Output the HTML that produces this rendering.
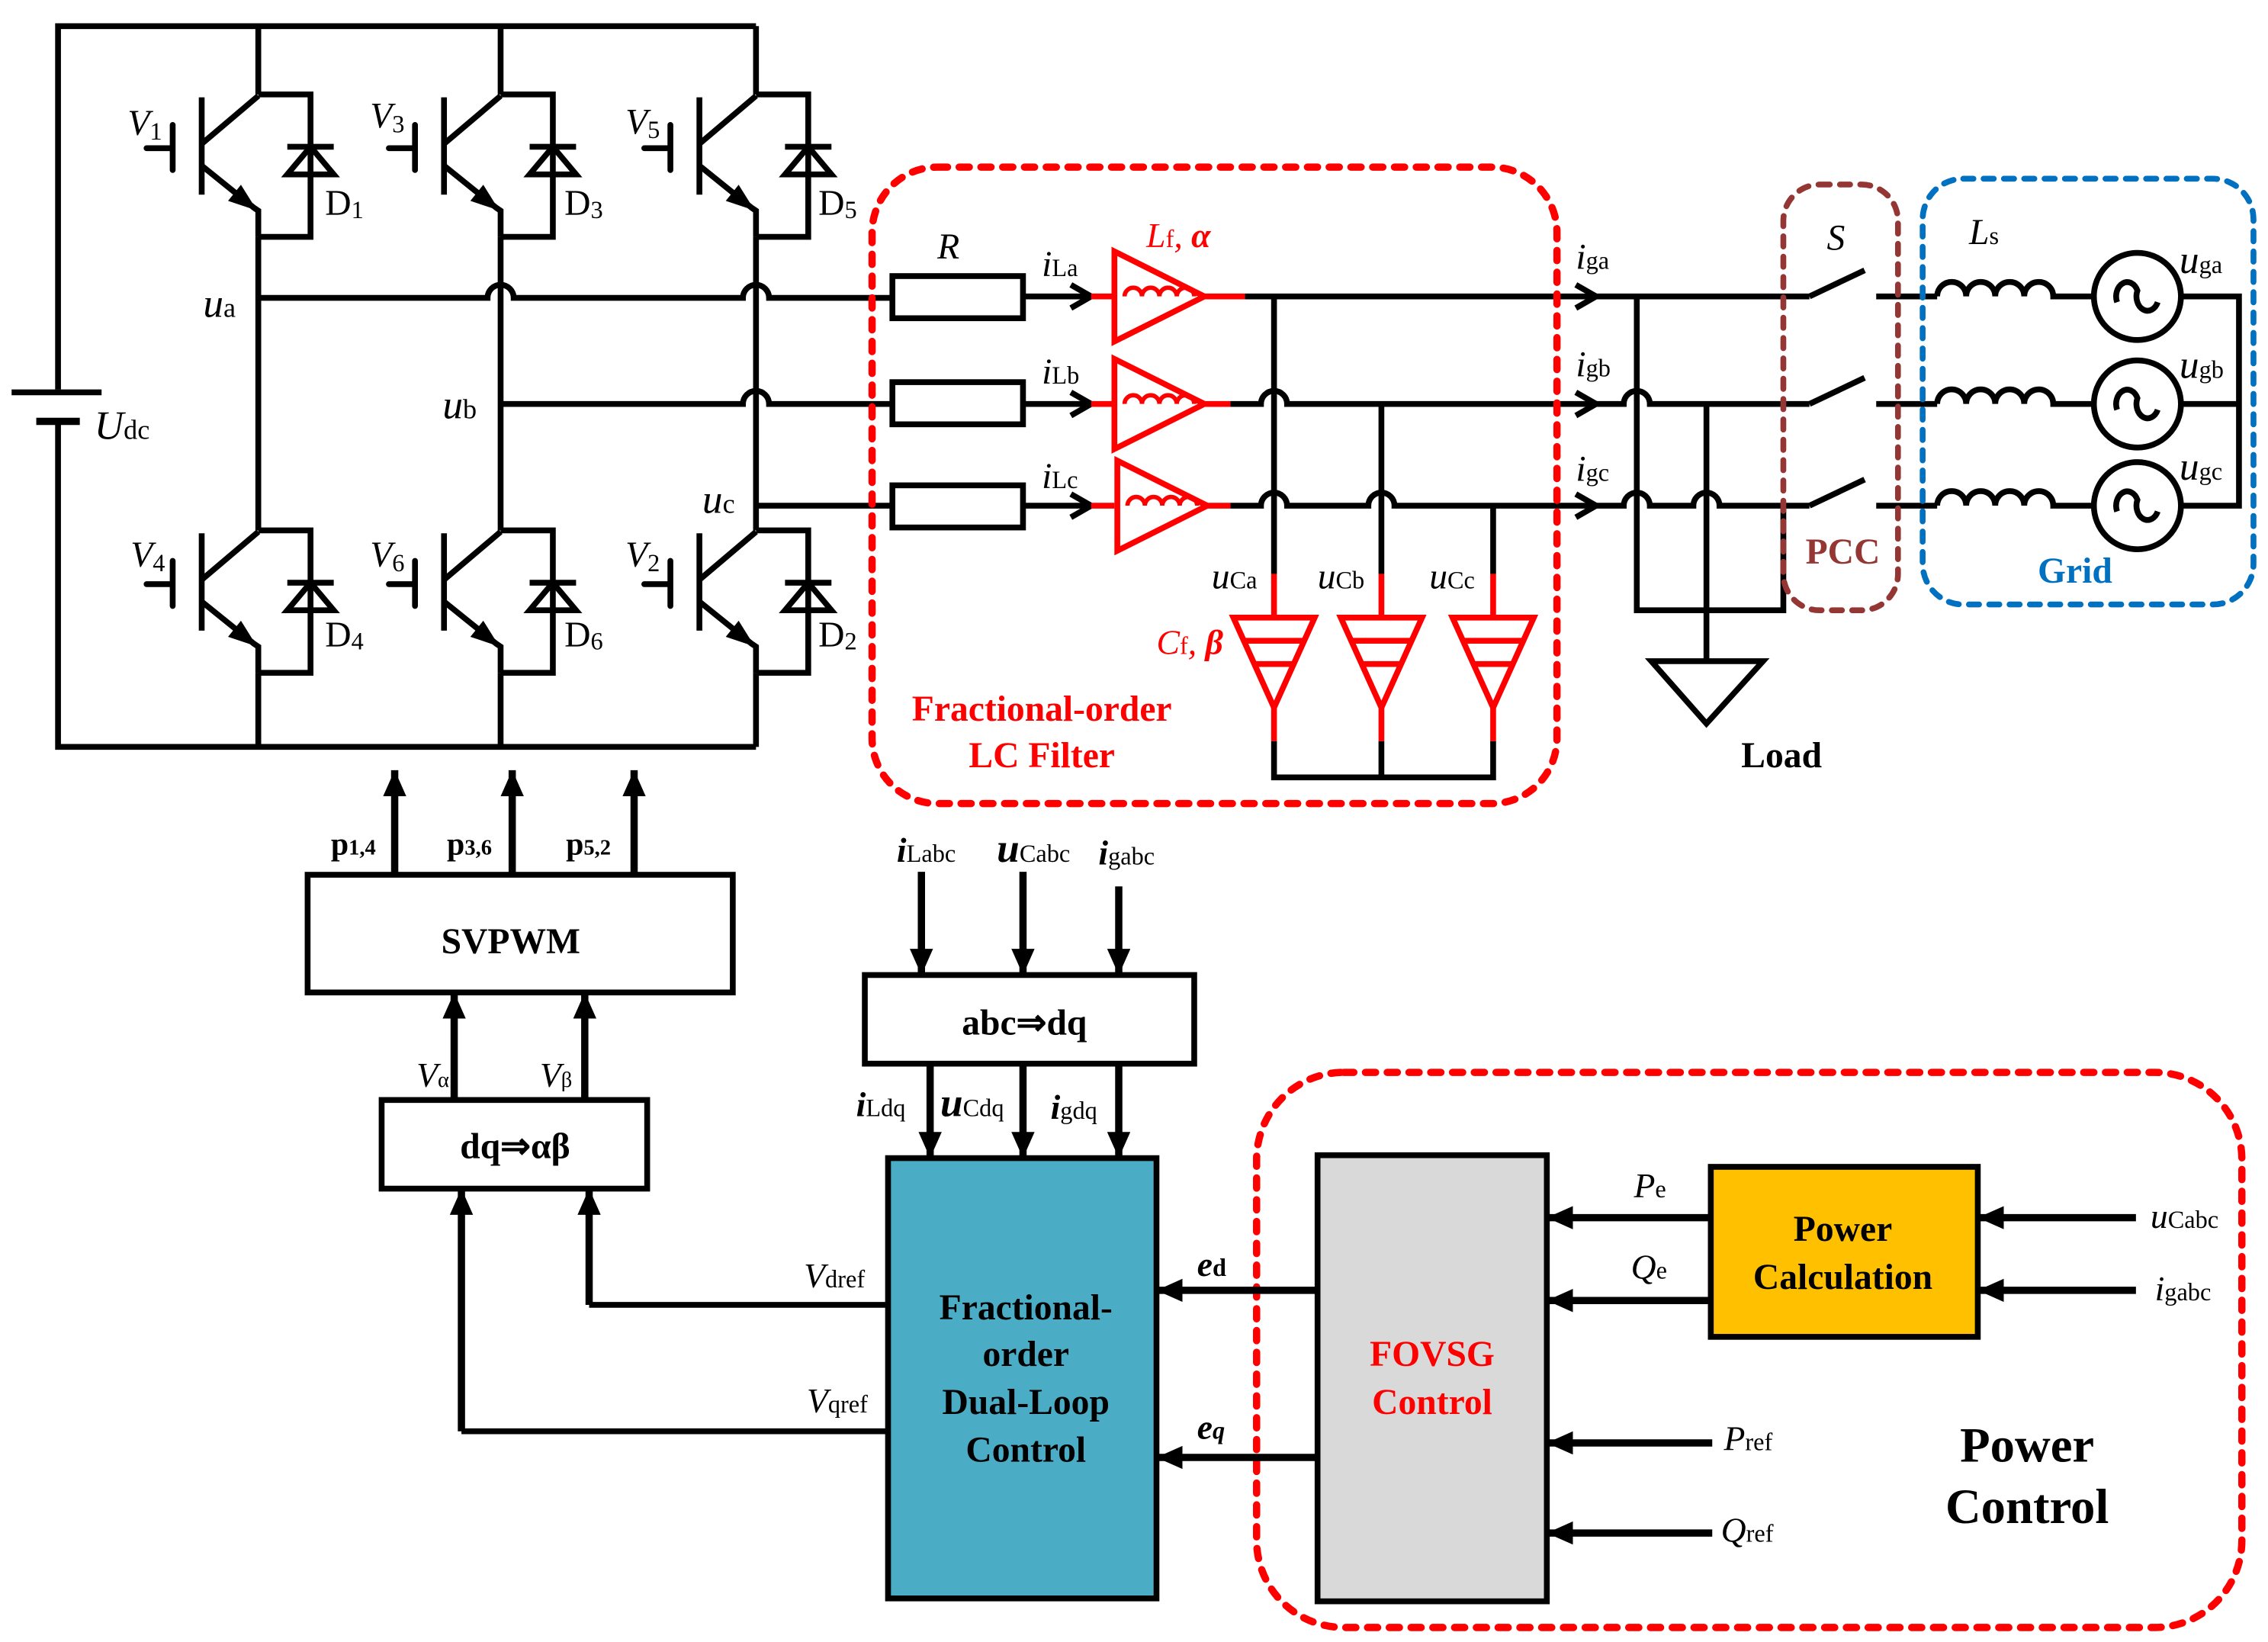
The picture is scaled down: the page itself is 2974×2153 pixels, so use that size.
<!DOCTYPE html>
<html><head><meta charset="utf-8"><style>
html,body{margin:0;padding:0;background:#fff;}
svg{display:block;}
text{font-family:"Liberation Serif",serif;}
</style></head><body>
<svg width="2974" height="2153" viewBox="0 0 1563 1130" preserveAspectRatio="none" xmlns="http://www.w3.org/2000/svg">
<defs>
<marker id="ar" markerUnits="userSpaceOnUse" markerWidth="20" markerHeight="16" refX="18" refY="8" orient="auto"><path d="M0,0 L18,8 L0,16 Z" fill="#000"/></marker>
<g id="tr" fill="none" stroke="#000" stroke-width="4">
<path d="M-39,2 V69"/>
<path d="M-39,34 L0,1"/>
<path d="M-39,49 L-3,78 L0,80 V98"/>
<polygon points="-2,79 -20,73 -12,63" fill="#000" stroke-width="1"/>
<path d="M0,0 H36 V98 H0"/>
<path d="M20,36 H52"/>
<path d="M36,36 L20,55 H52 Z"/>
<path d="M-77,37 H-59 M-59,21 V52" stroke-linecap="round"/>
</g>
<g id="cap" fill="none" stroke="#f00" stroke-width="4">
<path d="M-28,0 H28 L0,62 Z"/>
<path d="M-21,16 H21 M-14,32 H14"/>
</g>
</defs>
<g fill="none" stroke="#000" stroke-width="4">
<path d="M40,268 V18 H521 M40,290 V514 H521"/>
<path d="M8,270 H70"/>
<path d="M25,290 H55" stroke-width="5"/>
<path d="M178,18 V65 M178,163 V365 M178,463 V514"/>
<path d="M345,18 V65 M345,163 V365 M345,463 V514"/>
<path d="M521,18 V65 M521,163 V365 M521,463 V514"/>
<path d="M178,205 H336 a9,9 0 0 1 18,0 H512 a9,9 0 0 1 18,0 H615"/>
<path d="M345,278 H512 a9,9 0 0 1 18,0 H615"/>
<path d="M521,348 H615"/>
<rect x="615" y="190" width="90" height="29"/>
<rect x="615" y="263" width="90" height="29"/>
<rect x="615" y="334" width="90" height="29"/>
<path d="M705,204 H752 M705,278 H752 M705,348 H752"/>
<path d="M738,196 L752,204 L738,212 M738,270 L752,278 L738,286 M738,340 L752,348 L738,356"/>
<path d="M858,204 H1100"/>
<path d="M848,278 H869 a9,9 0 0 1 18,0 H1119 a9,9 0 0 1 18,0 H1247"/>
<path d="M848,348 H869 a9,9 0 0 1 18,0 H943 a9,9 0 0 1 18,0 H1119 a9,9 0 0 1 18,0 H1167 a9,9 0 0 1 18,0 H1247"/>
<path d="M1100,204 H1247"/>
<path d="M1086,196 L1100,204 L1086,212 M1086,270 L1100,278 L1086,286 M1086,340 L1100,348 L1086,356"/>
<path d="M878,204 V395 M952,278 V395 M1029,348 V395"/>
<path d="M878,510 V535 H1029 V510 M952,510 V535"/>
<path d="M1128,204 V420 H1229 V348 M1176,278 V455"/>
<path d="M1138,455 H1215 L1176,498 Z"/>
<path d="M1247,204 L1285,186 M1247,278 L1285,260 M1247,348 L1285,330"/>
<path d="M1293,204 H1335 M1293,278 H1335 M1293,348 H1335"/>
<path d="M1335,204 a10,10 0 0 1 20,0 a10,10 0 0 1 20,0 a10,10 0 0 1 20,0 a10,10 0 0 1 20,0 H1443"/>
<path d="M1335,278 a10,10 0 0 1 20,0 a10,10 0 0 1 20,0 a10,10 0 0 1 20,0 a10,10 0 0 1 20,0 H1443"/>
<path d="M1335,348 a10,10 0 0 1 20,0 a10,10 0 0 1 20,0 a10,10 0 0 1 20,0 a10,10 0 0 1 20,0 H1443"/>
<circle cx="1473" cy="204" r="30"/><circle cx="1473" cy="278" r="30"/><circle cx="1473" cy="348" r="30"/>
<path d="M1459,212 a7,9 0 0 1 14,-8 a7,9 0 0 0 14,8" transform="translate(0,-4)"/>
<path d="M1459,286 a7,9 0 0 1 14,-8 a7,9 0 0 0 14,8" transform="translate(0,-4)"/>
<path d="M1459,356 a7,9 0 0 1 14,-8 a7,9 0 0 0 14,8" transform="translate(0,-4)"/>
<path d="M1503,204 H1543 V348 H1503 M1503,278 H1543"/>
</g>
<g fill="none" stroke="#f00" stroke-width="4">
<path d="M752,204 H768 M830,204 H858 M752,278 H768 M830,278 H848 M752,348 H768 M830,348 H848"/>
<path d="M768,173 V235 L830,204 Z M768,247 V309 L830,278 Z M770,317 V379 L832,348 Z"/>
<path d="M775,204 a6,6 0 0 1 12,0 a6,6 0 0 1 12,0 a6,6 0 0 1 12,0 a6,6 0 0 1 12,0" stroke-width="3"/>
<path d="M775,278 a6,6 0 0 1 12,0 a6,6 0 0 1 12,0 a6,6 0 0 1 12,0 a6,6 0 0 1 12,0" stroke-width="3"/>
<path d="M777,348 a6,6 0 0 1 12,0 a6,6 0 0 1 12,0 a6,6 0 0 1 12,0 a6,6 0 0 1 12,0" stroke-width="3"/>
<path d="M878,395 V425 M952,395 V425 M1029,395 V425 M878,485 V510 M952,485 V510 M1029,485 V510"/>
</g>
<use href="#cap" x="878" y="425"/><use href="#cap" x="952" y="425"/><use href="#cap" x="1029" y="425"/>
<use href="#tr" x="178" y="65"/><use href="#tr" x="345" y="65"/><use href="#tr" x="521" y="65"/>
<use href="#tr" x="178" y="365"/><use href="#tr" x="345" y="365"/><use href="#tr" x="521" y="365"/>
<rect x="601" y="115" width="472" height="438" rx="45" fill="none" stroke="#f00" stroke-width="5" stroke-dasharray="7 8" stroke-linecap="round"/>
<rect x="1229" y="127" width="79" height="293" rx="25" fill="none" stroke="#943634" stroke-width="4" stroke-dasharray="7 7" stroke-linecap="round"/>
<rect x="1325" y="123" width="228" height="293" rx="28" fill="none" stroke="#0070C0" stroke-width="4" stroke-dasharray="7 7" stroke-linecap="round"/>
<rect x="866" y="738" width="679" height="382" rx="60" fill="none" stroke="#f00" stroke-width="5" stroke-dasharray="7 8" stroke-linecap="round"/>
<g fill="none" stroke="#000" stroke-width="4">
<rect x="212" y="602" width="293" height="81"/>
<rect x="263" y="757" width="183" height="61"/>
<rect x="596" y="671" width="227" height="61"/>
<rect x="612" y="797" width="185" height="303" fill="#4BACC6"/>
<rect x="908" y="795" width="158" height="307" fill="#D9D9D9"/>
<rect x="1179" y="803" width="184" height="117" fill="#FFC000"/>
<g marker-end="url(#ar)" stroke-width="5">
<path d="M272,602 V530"/><path d="M353,602 V530"/><path d="M437,602 V530"/>
<path d="M313,757 V683"/><path d="M403,757 V683"/>
<path d="M406,898 V818"/><path d="M318,985 V818"/>
<path d="M635,600 V671"/><path d="M705,600 V671"/><path d="M771,610 V671"/>
<path d="M641,732 V797"/><path d="M705,732 V797"/><path d="M771,732 V797"/>
<path d="M908,888 H797"/><path d="M908,1003 H797"/>
<path d="M1179,838 H1066"/><path d="M1179,895 H1066"/>
<path d="M1180,993 H1066"/><path d="M1180,1055 H1066"/>
<path d="M1472,838 H1363"/><path d="M1472,888 H1363"/>
</g>
<path d="M406,898 H612 M318,985 H612"/>
</g>
<g font-size="25" fill="#000">
<text x="88" y="93" font-style="italic">V<tspan font-style="normal" font-size="17" dy="3">1</tspan></text>
<text x="255" y="88" font-style="italic">V<tspan font-style="normal" font-size="17" dy="3">3</tspan></text>
<text x="431" y="92" font-style="italic">V<tspan font-style="normal" font-size="17" dy="3">5</tspan></text>
<text x="90" y="390" font-style="italic">V<tspan font-style="normal" font-size="17" dy="3">4</tspan></text>
<text x="255" y="390" font-style="italic">V<tspan font-style="normal" font-size="17" dy="3">6</tspan></text>
<text x="431" y="390" font-style="italic">V<tspan font-style="normal" font-size="17" dy="3">2</tspan></text>
<text x="224" y="148">D<tspan font-size="17" dy="2">1</tspan></text>
<text x="389" y="148">D<tspan font-size="17" dy="2">3</tspan></text>
<text x="564" y="148">D<tspan font-size="17" dy="2">5</tspan></text>
<text x="224" y="445">D<tspan font-size="17" dy="2">4</tspan></text>
<text x="389" y="445">D<tspan font-size="17" dy="2">6</tspan></text>
<text x="564" y="445">D<tspan font-size="17" dy="2">2</tspan></text>
<text x="140" y="218" font-style="italic" font-size="28">u<tspan font-style="normal" font-size="19">a</tspan></text>
<text x="305" y="288" font-style="italic" font-size="28">u<tspan font-style="normal" font-size="19">b</tspan></text>
<text x="484" y="353" font-style="italic" font-size="28">u<tspan font-style="normal" font-size="19">c</tspan></text>
<text x="65" y="302" font-style="italic" font-size="28">U<tspan font-style="normal" font-size="19">dc</tspan></text>
<text x="646" y="178" font-style="italic">R</text>
<text x="718" y="190" font-style="italic">i<tspan font-style="normal" font-size="17">La</tspan></text>
<text x="718" y="264" font-style="italic">i<tspan font-style="normal" font-size="17">Lb</tspan></text>
<text x="718" y="336" font-style="italic">i<tspan font-style="normal" font-size="17">Lc</tspan></text>
<text x="1086" y="185" font-style="italic">i<tspan font-style="normal" font-size="17">ga</tspan></text>
<text x="1086" y="259" font-style="italic">i<tspan font-style="normal" font-size="17">gb</tspan></text>
<text x="1086" y="331" font-style="italic">i<tspan font-style="normal" font-size="17">gc</tspan></text>
<text x="835" y="405" font-style="italic">u<tspan font-style="normal" font-size="17">Ca</tspan></text>
<text x="908" y="405" font-style="italic">u<tspan font-style="normal" font-size="17">Cb</tspan></text>
<text x="985" y="405" font-style="italic">u<tspan font-style="normal" font-size="17">Cc</tspan></text>
<text x="1259" y="172" font-style="italic">S</text>
<text x="1357" y="168" font-style="italic">L<tspan font-style="normal" font-size="17">s</tspan></text>
<text x="1502" y="188" font-style="italic" font-size="27">u<tspan font-style="normal" font-size="17">ga</tspan></text>
<text x="1502" y="260" font-style="italic" font-size="27">u<tspan font-style="normal" font-size="17">gb</tspan></text>
<text x="1502" y="330" font-style="italic" font-size="27">u<tspan font-style="normal" font-size="17">gc</tspan></text>
<text x="1200" y="528" font-weight="bold">Load</text>
</g>
<g fill="#f00" font-size="24" font-style="italic">
<text x="790" y="170">L<tspan font-style="normal" font-size="17">f</tspan>, <tspan font-weight="bold">α</tspan></text>
<text x="797" y="450">C<tspan font-style="normal" font-size="17">f</tspan>, <tspan font-weight="bold">β</tspan></text>
</g>
<g font-weight="bold" font-size="25" text-anchor="middle">
<text x="718" y="496" fill="#f00">Fractional-order</text>
<text x="718" y="528" fill="#f00">LC  Filter</text>
<text x="1270" y="388" fill="#943634">PCC</text>
<text x="1430" y="401" fill="#0070C0">Grid</text>
<text x="352" y="656">SVPWM</text>
<text x="355" y="797">dq⇒αβ</text>
<text x="706" y="712">abc⇒dq</text>
<text x="707" y="908">Fractional-</text>
<text x="707" y="940">order</text>
<text x="707" y="973">Dual-Loop</text>
<text x="707" y="1006">Control</text>
<text x="987" y="940" fill="#f00">FOVSG</text>
<text x="987" y="973" fill="#f00">Control</text>
<text x="1270" y="854">Power</text>
<text x="1270" y="887">Calculation</text>
<text x="1397" y="1006" font-size="34">Power</text>
<text x="1397" y="1048" font-size="34">Control</text>
</g>
<g font-weight="bold" font-size="22">
<text x="228" y="588">p<tspan font-size="15">1,4</tspan></text>
<text x="308" y="588">p<tspan font-size="15">3,6</tspan></text>
<text x="390" y="588">p<tspan font-size="15">5,2</tspan></text>
</g>
<g font-size="24" font-style="italic">
<text x="287" y="748">V<tspan font-style="normal" font-size="15">α</tspan></text>
<text x="372" y="748">V<tspan font-style="normal" font-size="15">β</tspan></text>
<text x="554" y="886">V<tspan font-style="normal" font-size="17">dref</tspan></text>
<text x="556" y="972">V<tspan font-style="normal" font-size="17">qref</tspan></text>
<text x="618" y="593" font-weight="bold">i<tspan font-style="normal" font-weight="normal" font-size="17">Labc</tspan></text>
<text x="687" y="593" font-weight="bold" font-size="28">u<tspan font-style="normal" font-weight="normal" font-size="17">Cabc</tspan></text>
<text x="757" y="595" font-weight="bold">i<tspan font-style="normal" font-weight="normal" font-size="17">gabc</tspan></text>
<text x="590" y="768" font-weight="bold">i<tspan font-style="normal" font-weight="normal" font-size="17">Ldq</tspan></text>
<text x="648" y="768" font-weight="bold" font-size="28">u<tspan font-style="normal" font-weight="normal" font-size="17">Cdq</tspan></text>
<text x="724" y="770" font-weight="bold">i<tspan font-style="normal" font-weight="normal" font-size="17">gdq</tspan></text>
<text x="825" y="878" font-weight="bold">e<tspan font-style="normal" font-size="17">d</tspan></text>
<text x="825" y="990" font-weight="bold">e<tspan font-size="17">q</tspan></text>
<text x="1126" y="824">P<tspan font-style="normal" font-size="17">e</tspan></text>
<text x="1124" y="880">Q<tspan font-style="normal" font-size="17">e</tspan></text>
<text x="1188" y="998">P<tspan font-style="normal" font-size="17">ref</tspan></text>
<text x="1186" y="1061">Q<tspan font-style="normal" font-size="17">ref</tspan></text>
<text x="1482" y="845">u<tspan font-style="normal" font-size="17">Cabc</tspan></text>
<text x="1485" y="895">i<tspan font-style="normal" font-size="17">gabc</tspan></text>
</g>
</svg>
</body></html>
